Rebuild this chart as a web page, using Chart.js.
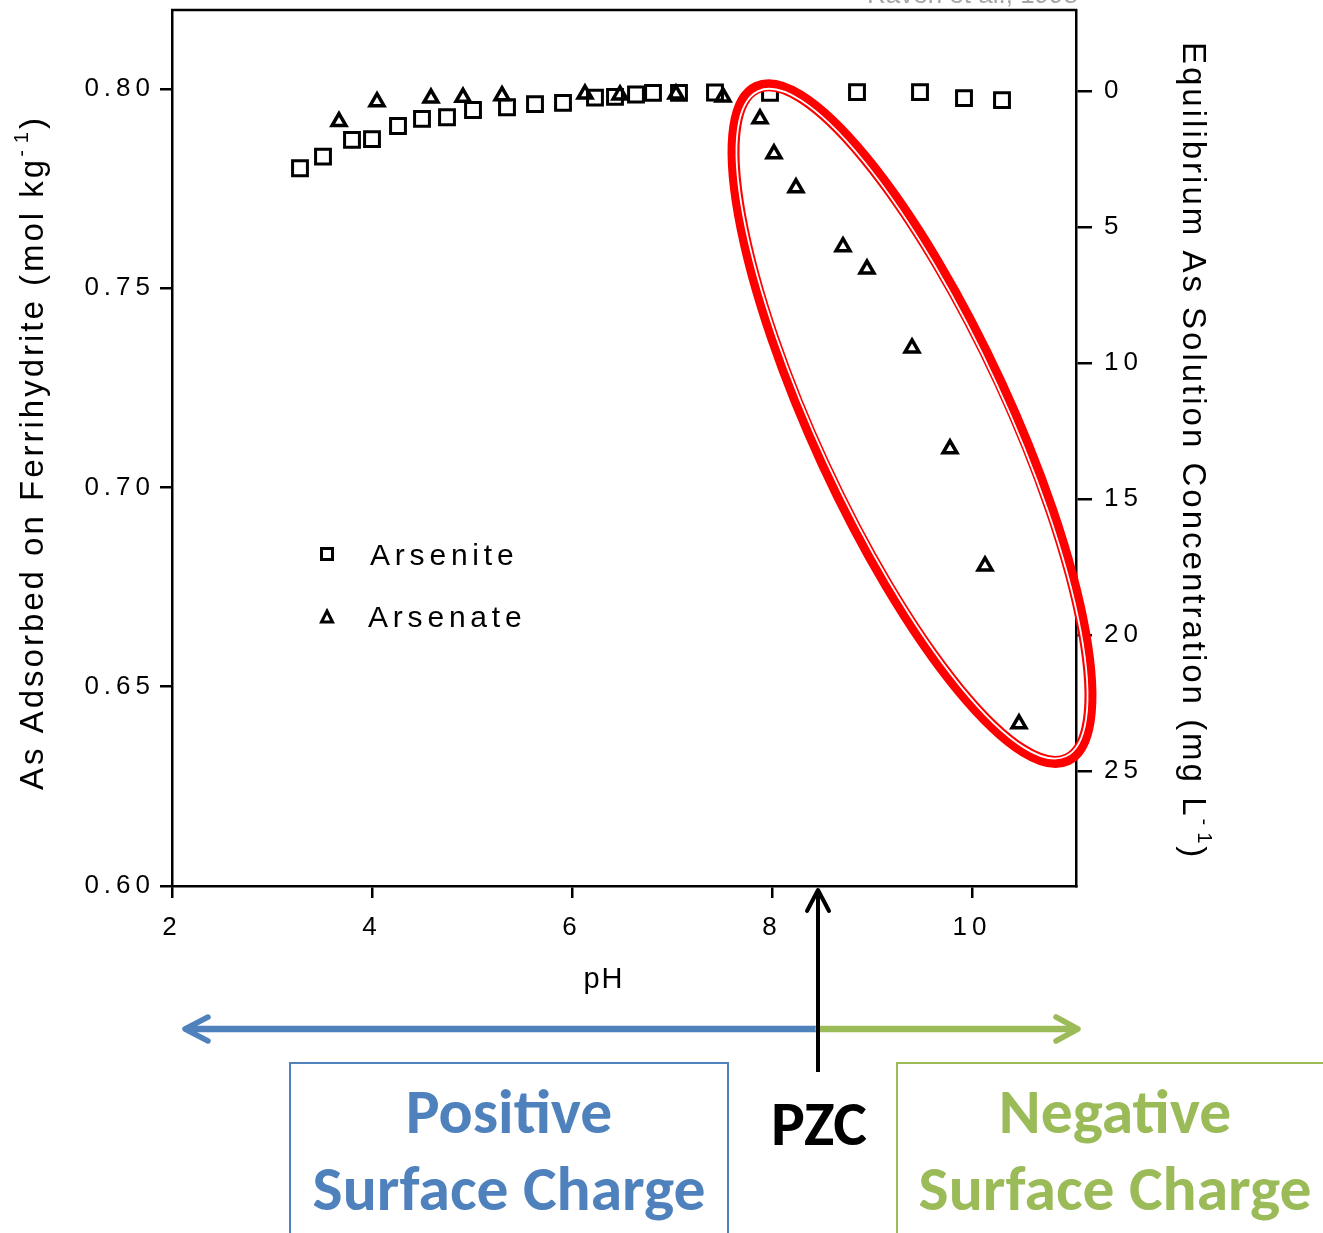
<!DOCTYPE html>
<html>
<head>
<meta charset="utf-8">
<script src="https://cdn.jsdelivr.net/npm/chart.js@4.4.0/dist/chart.umd.min.js"></script>
<style>
html,body{margin:0;padding:0;background:#fff;}
canvas{display:block;}
</style>
</head>
<body>
<canvas id="c" width="1323" height="1233"></canvas>
<script>
// ---- data ----
const seriesNames = ['Arsenite', 'Arsenate'];
const arsenitePH = [3.28,3.51,3.80,4.00,4.26,4.50,4.75,5.01,5.35,5.63,5.91,6.23,6.43,6.64,6.81,7.07,7.43,7.98,8.85,9.48,9.92,10.30];
const arseniteAds = [0.7801,0.7830,0.7872,0.7874,0.7907,0.7925,0.7929,0.7947,0.7954,0.7962,0.7965,0.7978,0.7980,0.7986,0.7990,0.7990,0.7991,0.7990,0.7992,0.7992,0.7977,0.7972];
const arsenatePH = [3.67,4.05,4.59,4.91,5.30,6.13,6.48,7.04,7.51,7.88,8.02,8.24,8.71,8.95,9.40,9.78,10.13,10.47];
const arsenateAds = [0.7918,0.7968,0.7977,0.7979,0.7983,0.7987,0.7985,0.7987,0.7980,0.7925,0.7837,0.7752,0.7604,0.7548,0.7350,0.7097,0.6803,0.6407];
const xTicks = [2,4,6,8,10];
const yTicks = [0.60,0.65,0.70,0.75,0.80];
const y2Ticks = [0,5,10,15,20,25];
const xTitle = 'pH';
const yTitle = 'As Adsorbed on Ferrihydrite (mol kg';
const y2Title = 'Equilibrium As Solution Concentration (mg L';
const pzcPH = 8.46;
const ringCenter = {pH: 9.40, ads: 0.716};
const sourceNote = 'Raven et al., 1998';
const leftLabel = ['Positive', 'Surface Charge'];
const rightLabel = ['Negative', 'Surface Charge'];
const pzcLabel = 'PZC';

const BLUE = '#4F81BD', GREEN = '#9BBB59';
const SANS = '"Liberation Sans", Arial, Helvetica, sans-serif';
const BOLD = 'Carlito, Lato, "Open Sans", sans-serif';
Chart.defaults.font.family = SANS;

function toPts(xs, ys){ return xs.map((x,i)=>({x:x, y:ys[i]})); }

function spacedText(ctx, parts, x0, y0, rot){
  ctx.save();
  ctx.translate(x0, y0);
  ctx.rotate(rot);
  ctx.textAlign = 'left';
  ctx.textBaseline = 'alphabetic';
  let x = 0;
  for (const p of parts){
    ctx.font = p.size + 'px ' + SANS;
    ctx.letterSpacing = (p.sp||0) + 'px';
    ctx.fillText(p.t, x + (p.dx||0), p.dy||0);
    x += ctx.measureText(p.t).width + (p.dx||0);
  }
  ctx.restore();
}

function fitBold(ctx, text, target){
  ctx.font = 'bold 60px ' + BOLD;
  ctx.letterSpacing = '0px';
  const w = ctx.measureText(text).width;
  return 60 * target / w;
}

const annot = {
  id: 'annot',
  beforeDraw(chart){ chart.ctx.letterSpacing = '5px'; },
  afterDraw(chart){
    const {ctx, chartArea: ca, scales} = chart;
    const xs = scales.x, ys = scales.y;
    ctx.save();
    ctx.letterSpacing = '0px';
    ctx.fillStyle = '#000';
    ctx.strokeStyle = '#000';

    // top frame line
    ctx.lineWidth = 2.5;
    ctx.beginPath(); ctx.moveTo(ca.left-1, ca.top); ctx.lineTo(ca.right+1, ca.top); ctx.stroke();

    // source note (cut off at top)
    ctx.fillStyle = '#a6a6a6';
    ctx.font = '26px ' + SANS;
    ctx.textAlign = 'right'; ctx.textBaseline = 'alphabetic';
    ctx.fillText(sourceNote, 1078, 3);
    ctx.fillStyle = '#000';

    // axis titles
    spacedText(ctx, [
      {t: yTitle, size: 33, sp: 3},
      {t: '-', size: 20, dy: -15, sp: 3},
      {t: '1', size: 20, dy: -15, sp: 3, dx: 4},
      {t: ')', size: 33, sp: 3}
    ], 43, 790, -Math.PI/2);
    spacedText(ctx, [
      {t: y2Title, size: 33, sp: 3},
      {t: '-', size: 20, dy: -15, sp: 3},
      {t: '1', size: 20, dy: -15, sp: 3, dx: 4},
      {t: ')', size: 33, sp: 3}
    ], 1183, 42, Math.PI/2);
    ctx.font = '29px ' + SANS;
    ctx.letterSpacing = '2px';
    ctx.textAlign = 'center';
    ctx.fillText(xTitle, xs.getPixelForValue(6.32), 988);

    // legend (inside plot)
    const ds = chart.data.datasets;
    ctx.lineWidth = 3;
    ctx.strokeStyle = '#000';
    ctx.strokeRect(321.5, 548.5, 11, 11);
    ctx.beginPath();
    ctx.moveTo(327, 611); ctx.lineTo(332.5, 622); ctx.lineTo(321.5, 622); ctx.closePath(); ctx.stroke();
    ctx.font = '30px ' + SANS;
    ctx.letterSpacing = '4.8px';
    ctx.textAlign = 'left';
    ctx.fillText(ds[0].label, 370, 565);
    ctx.fillText(ds[1].label, 368, 627);
    ctx.letterSpacing = '0px';

    // red ring
    const cx = xs.getPixelForValue(ringCenter.pH), cy = ys.getPixelForValue(ringCenter.ads);
    const rot = 65.2 * Math.PI / 180, A = 370, B = 97;
    ctx.strokeStyle = '#ff0000';
    ctx.lineWidth = 12;
    ctx.beginPath(); ctx.ellipse(cx, cy, A, B, rot, 0, 2*Math.PI); ctx.stroke();
    ctx.strokeStyle = '#ffffff';
    ctx.lineWidth = 1.8;
    ctx.beginPath(); ctx.ellipse(cx, cy, A-3.6, B-3.6, rot, 0, 2*Math.PI); ctx.stroke();

    // bottom annotations
    const px = xs.getPixelForValue(pzcPH);
    ctx.lineCap = 'round'; ctx.lineJoin = 'round';
    ctx.strokeStyle = BLUE; ctx.lineWidth = 6.5;
    ctx.beginPath(); ctx.moveTo(px, 1029); ctx.lineTo(187, 1029); ctx.stroke();
    ctx.lineWidth = 5.5;
    ctx.beginPath(); ctx.moveTo(208, 1017); ctx.lineTo(185, 1029); ctx.lineTo(208, 1041); ctx.stroke();
    ctx.strokeStyle = GREEN; ctx.lineWidth = 6.5;
    ctx.beginPath(); ctx.moveTo(px, 1029); ctx.lineTo(1076, 1029); ctx.stroke();
    ctx.lineWidth = 5.5;
    ctx.beginPath(); ctx.moveTo(1056, 1017); ctx.lineTo(1078, 1029); ctx.lineTo(1056, 1041); ctx.stroke();
    ctx.strokeStyle = '#000'; ctx.lineWidth = 4; ctx.lineCap = 'butt';
    ctx.beginPath(); ctx.moveTo(px, 1072); ctx.lineTo(px, 890); ctx.stroke();
    ctx.lineCap = 'round';
    ctx.beginPath(); ctx.moveTo(px-11, 911); ctx.lineTo(px, 890); ctx.lineTo(px+11, 911); ctx.stroke();

    ctx.lineCap = 'butt'; ctx.lineJoin = 'miter';
    ctx.lineWidth = 2;
    ctx.strokeStyle = BLUE; ctx.strokeRect(290, 1063, 438, 220);
    ctx.strokeStyle = GREEN; ctx.strokeRect(897, 1063, 500, 220);

    const fs = fitBold(ctx, leftLabel[1], 393);
    ctx.font = 'bold ' + fs.toFixed(1) + 'px ' + BOLD;
    ctx.letterSpacing = '0px';
    ctx.textAlign = 'center'; ctx.textBaseline = 'alphabetic';
    ctx.fillStyle = BLUE;
    ctx.fillText(leftLabel[0], 509, 1133);
    ctx.fillText(leftLabel[1], 509, 1210);
    ctx.fillStyle = GREEN;
    ctx.fillText(rightLabel[0], 1115, 1133);
    ctx.fillText(rightLabel[1], 1115, 1210);
    ctx.fillStyle = '#000';
    ctx.fillText(pzcLabel, px + 1, 1145);

    ctx.restore();
  }
};

const tickFont = {family: SANS, size: 26};
const gridOpts = (len) => ({display: true, drawOnChartArea: false, drawTicks: true, tickLength: len, color: '#000', lineWidth: 2.5});
const noPad = s => { s.paddingTop = 0; s.paddingBottom = 0; s.paddingLeft = 0; s.paddingRight = 0; };

new Chart(document.getElementById('c'), {
  type: 'scatter',
  data: {
    datasets: [
      {label: seriesNames[0], data: toPts(arsenitePH, arseniteAds), pointStyle: 'rect', pointRadius: 10.5, pointHoverRadius: 10.5,
       borderColor: '#000', backgroundColor: 'rgba(255,255,255,0)', borderWidth: 3, xAxisID: 'x', yAxisID: 'y'},
      {label: seriesNames[1], data: toPts(arsenatePH, arsenateAds), pointStyle: 'triangle', pointRadius: 8, pointHoverRadius: 8,
       borderColor: '#000', backgroundColor: 'rgba(255,255,255,0)', borderWidth: 3.5, xAxisID: 'x', yAxisID: 'y'}
    ]
  },
  options: {
    responsive: false,
    animation: false,
    devicePixelRatio: 1,
    layout: {autoPadding: false, padding: {top: 10, left: 0, right: 0, bottom: 0}},
    plugins: {legend: {display: false}, tooltip: {enabled: false}},
    events: [],
    scales: {
      x: {
        type: 'linear', position: 'bottom', min: 2, max: 11.04,
        afterBuildTicks: s => { s.ticks = xTicks.map(v => ({value: v})); },
        afterFit: s => { s.height = 347; noPad(s); },
        grid: gridOpts(12),
        border: {display: true, color: '#000', width: 2.5},
        ticks: {color: '#000', font: tickFont, padding: 14, maxRotation: 0, autoSkip: false, callback: v => String(v)}
      },
      y: {
        type: 'linear', position: 'left', min: 0.60, max: 0.8198,
        afterBuildTicks: s => { s.ticks = yTicks.map(v => ({value: v})); },
        afterFit: s => { s.width = 172; noPad(s); },
        grid: gridOpts(12),
        border: {display: true, color: '#000', width: 2.5},
        ticks: {color: '#000', font: tickFont, padding: 5, autoSkip: false, callback: v => Number(v).toFixed(2)}
      },
      y2: {
        type: 'linear', position: 'right', reverse: true, min: -2.98, max: 29.23,
        afterBuildTicks: s => { s.ticks = y2Ticks.map(v => ({value: v})); },
        afterFit: s => { s.width = 247; noPad(s); },
        grid: gridOpts(16),
        border: {display: true, color: '#000', width: 2.5},
        ticks: {color: '#000', font: tickFont, padding: 12, autoSkip: false, callback: v => String(v)}
      }
    }
  },
  plugins: [annot]
});
</script>
</body>
</html>
